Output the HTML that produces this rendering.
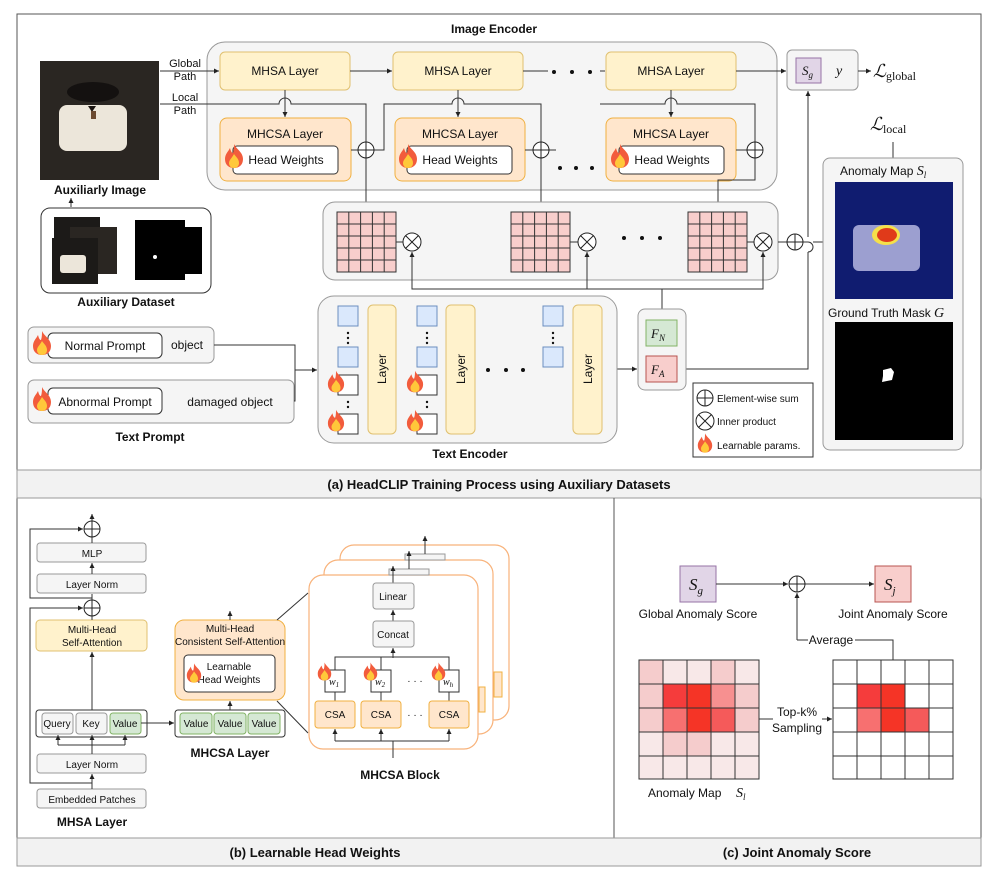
<!DOCTYPE html>
<html><head><meta charset="utf-8"><style>
html,body{margin:0;padding:0;background:#fff}
svg{display:block}
text{font-family:"Liberation Sans",sans-serif;fill:#111}
.b{font-weight:bold}
.m{font-family:"Liberation Serif",serif;font-style:italic}
</style></head><body>
<svg width="997" height="883" viewBox="0 0 997 883" xmlns="http://www.w3.org/2000/svg">
<defs>
<marker id="ar" markerWidth="6" markerHeight="6" refX="5" refY="3" orient="auto"><path d="M0,0.5 L5,3 L0,5.5 z" fill="#222"/></marker>
<symbol id="fl" viewBox="0 0 20 24"><path d="M10,0 C12,5 19,8 19,15 C19,21 15,24 10,24 C5,24 1,21 1,15 C1,10 4,8 6,4 C7,8 8,9 9,9 C10,6 10,3 10,0z" fill="#f25c3c"/><path d="M10,10 C12,13 15,15 15,19 C15,22 13,24 10,24 C7,24 5,22 5,19 C5,16 8,14 10,10z" fill="#ffc83a"/></symbol>
<g id="op"><circle r="8" fill="#fff" stroke="#222"/><path d="M-8,0H8M0,-8V8" stroke="#222"/></g>
<g id="ot"><circle r="9" fill="#fff" stroke="#222"/><path d="M-6.4,-6.4L6.4,6.4M6.4,-6.4L-6.4,6.4" stroke="#222"/></g>
<g id="grid"><rect width="59" height="60" fill="#f8cecc" stroke="#333"/><path d="M11.8,0V60M23.6,0V60M35.4,0V60M47.2,0V60M0,12H59M0,24H59M0,36H59M0,48H59" stroke="#333" fill="none"/></g>
</defs>

<rect x="17" y="14" width="964" height="852" fill="none" stroke="#555"/>
<rect x="17" y="470" width="964" height="28" fill="#f2f2f2" stroke="#999"/>
<text x="499" y="489" text-anchor="middle" font-size="13" class="b">(a) HeadCLIP Training Process using Auxiliary Datasets</text>
<line x1="614" y1="498" x2="614" y2="866" stroke="#555"/>
<rect x="17" y="838" width="964" height="28" fill="#f2f2f2" stroke="#999"/>
<text x="315" y="857" text-anchor="middle" font-size="13" class="b">(b) Learnable Head Weights</text>
<text x="797" y="857" text-anchor="middle" font-size="13" class="b">(c) Joint Anomaly Score</text>

<text x="494" y="33" text-anchor="middle" font-size="12" class="b">Image Encoder</text>
<rect x="207" y="42" width="570" height="148" rx="18" fill="#f5f5f5" stroke="#999"/>
<g font-size="12" text-anchor="middle">
<rect x="220" y="52" width="130" height="38" rx="5" fill="#fff2cc" stroke="#e0c070"/><text x="285" y="75">MHSA Layer</text>
<rect x="393" y="52" width="130" height="38" rx="5" fill="#fff2cc" stroke="#e0c070"/><text x="458" y="75">MHSA Layer</text>
<rect x="606" y="52" width="130" height="38" rx="5" fill="#fff2cc" stroke="#e0c070"/><text x="671" y="75">MHSA Layer</text>
<rect x="220" y="118" width="131" height="63" rx="7" fill="#ffe6cc" stroke="#f0b040"/><text x="285" y="138">MHCSA Layer</text>
<rect x="233" y="146" width="105" height="28" rx="4" fill="#fff" stroke="#333"/><text x="286" y="164">Head Weights</text>
<rect x="395" y="118" width="130" height="63" rx="7" fill="#ffe6cc" stroke="#f0b040"/><text x="460" y="138">MHCSA Layer</text>
<rect x="407" y="146" width="105" height="28" rx="4" fill="#fff" stroke="#333"/><text x="460" y="164">Head Weights</text>
<rect x="606" y="118" width="130" height="63" rx="7" fill="#ffe6cc" stroke="#f0b040"/><text x="671" y="138">MHCSA Layer</text>
<rect x="619" y="146" width="105" height="28" rx="4" fill="#fff" stroke="#333"/><text x="672" y="164">Head Weights</text>
</g>
<use href="#fl" x="224" y="143" width="20" height="26"/>
<use href="#fl" x="398" y="143" width="20" height="26"/>
<use href="#fl" x="610" y="143" width="20" height="26"/>
<g fill="#111"><circle cx="554" cy="72" r="2"/><circle cx="572" cy="72" r="2"/><circle cx="590" cy="72" r="2"/><circle cx="560" cy="168" r="2"/><circle cx="576" cy="168" r="2"/><circle cx="592" cy="168" r="2"/></g>
<g stroke="#333" fill="none" stroke-width="1">
<path d="M350,71H392" marker-end="url(#ar)"/><path d="M523,71H548"/><path d="M600,71H605"/>
<path d="M736,71H786" marker-end="url(#ar)"/>
<path d="M285,90V117" marker-end="url(#ar)"/><path d="M458,90V117" marker-end="url(#ar)"/><path d="M671,90V117" marker-end="url(#ar)"/>
<path d="M160,71H219" marker-end="url(#ar)"/>
<path d="M160,104H279a6,6 0 0 1 12,0H366V211" marker-end="url(#ar)"/>
<path d="M351,150H358"/><path d="M374,150H384V104H452a6,6 0 0 1 12,0H541V211" marker-end="url(#ar)"/>
<path d="M525,150H533"/><path d="M549,150H556"/>
<path d="M736,150H747"/><path d="M600,104H665a6,6 0 0 1 12,0H755V142"/>
<path d="M755,158V180H718V211" marker-end="url(#ar)"/>
</g>
<use href="#op" x="366" y="150"/><use href="#op" x="541" y="150"/><use href="#op" x="755" y="150"/>
<text x="185" y="67" text-anchor="middle" font-size="11">Global</text>
<text x="185" y="80" text-anchor="middle" font-size="11">Path</text>
<text x="185" y="101" text-anchor="middle" font-size="11">Local</text>
<text x="185" y="114" text-anchor="middle" font-size="11">Path</text>

<rect x="40" y="61" width="119" height="119" fill="#2a2622"/>
<ellipse cx="93" cy="92" rx="26" ry="10" fill="#141110"/>
<rect x="59" y="105" width="68" height="46" rx="8" fill="#ece6da"/>
<path d="M88,106l4,6l4,-6z" fill="#1a1410"/><rect x="91" y="111" width="5" height="8" fill="#6b4a30"/>
<text x="100" y="194" text-anchor="middle" font-size="12" class="b">Auxiliarly Image</text>
<path d="M71,207V198" stroke="#333" marker-end="url(#ar)"/>
<rect x="41" y="208" width="170" height="85" rx="9" fill="#fff" stroke="#333"/>
<rect x="54" y="217" width="46" height="40" fill="#1c1a18"/><rect x="70" y="227" width="47" height="47" fill="#2a2622"/>
<rect x="52" y="238" width="46" height="46" fill="#1c1a18"/><rect x="60" y="255" width="26" height="18" rx="3" fill="#ece6da"/>
<rect x="135" y="220" width="50" height="60" fill="#000"/><rect x="145" y="227" width="57" height="47" fill="#000"/><circle cx="155" cy="257" r="2" fill="#fff"/>
<text x="126" y="306" text-anchor="middle" font-size="12" class="b">Auxiliary Dataset</text>

<rect x="323" y="202" width="455" height="78" rx="12" fill="#f5f5f5" stroke="#999"/>
<use href="#grid" x="337" y="212"/><use href="#grid" x="511" y="212"/><use href="#grid" x="688" y="212"/>
<g stroke="#333"><path d="M396,242H403"/><path d="M570,242H578"/><path d="M747,242H754"/><path d="M778,242H787"/></g>
<use href="#ot" x="412" y="242"/><use href="#ot" x="587" y="242"/><use href="#ot" x="763" y="242"/>
<g fill="#111"><circle cx="624" cy="238" r="2"/><circle cx="642" cy="238" r="2"/><circle cx="660" cy="238" r="2"/></g>
<use href="#op" x="795" y="242"/>
<g stroke="#333" fill="none">
<path d="M803,242H808a5,5 0 0 1 0,10"/><path d="M813,242H823"/>
<path d="M662,310V289H412V252" marker-end="url(#ar)"/>
<path d="M587,289V252" marker-end="url(#ar)"/>
<path d="M662,289H763V252" marker-end="url(#ar)"/>
<path d="M677,369H808V252"/><path d="M808,237V91" marker-end="url(#ar)"/>
<path d="M893,158V142"/>
</g>
<rect x="787" y="50" width="71" height="40" rx="5" fill="#f5f5f5" stroke="#999"/>
<rect x="796" y="58" width="25" height="25" fill="#e1d5e7" stroke="#9673a6"/>
<text x="802" y="75" font-size="13" class="m">S<tspan font-size="9" dy="3">g</tspan></text>
<text x="836" y="75" font-size="14" class="m">y</text>
<path d="M858,71H871" stroke="#333" marker-end="url(#ar)"/>
<text x="873" y="77" font-size="18" class="m">ℒ<tspan font-size="12" font-style="normal" dy="3">global</tspan></text>
<text x="870" y="130" font-size="18" class="m">ℒ<tspan font-size="12" font-style="normal" dy="3">local</tspan></text>

<rect x="823" y="158" width="140" height="292" rx="7" fill="#f5f5f5" stroke="#999"/>
<text x="840" y="175" font-size="12">Anomaly Map <tspan class="m" font-size="14">S<tspan font-size="9" dy="3">l</tspan></tspan></text>
<rect x="835" y="182" width="118" height="117" fill="#101c70"/>
<rect x="853" y="225" width="67" height="46" rx="6" fill="#9c9fd0"/>
<ellipse cx="886" cy="235" rx="14" ry="10" fill="#f5e04a"/><ellipse cx="887" cy="235" rx="10" ry="7" fill="#e03a1a"/>
<text x="828" y="317" font-size="12">Ground Truth Mask <tspan class="m" font-size="14">G</tspan></text>
<rect x="835" y="322" width="118" height="118" fill="#000"/>
<path d="M883,370l8,-2l3,4l-2,8l-10,2l1,-6z" fill="#fff"/>

<rect x="638" y="309" width="48" height="81" rx="7" fill="#f5f5f5" stroke="#999"/>
<rect x="646" y="320" width="31" height="26" fill="#d5e8d4" stroke="#82b366"/>
<text x="651" y="338" font-size="13" class="m">F<tspan font-size="9" dy="3">N</tspan></text>
<rect x="646" y="356" width="31" height="26" fill="#f8cecc" stroke="#b85450"/>
<text x="651" y="374" font-size="13" class="m">F<tspan font-size="9" dy="3">A</tspan></text>
<path d="M617,369H637" stroke="#333" marker-end="url(#ar)"/>

<rect x="693" y="383" width="120" height="74" fill="#fff" stroke="#333"/>
<use href="#op" x="705" y="398"/>
<use href="#ot" x="705" y="421"/>
<use href="#fl" x="697" y="433" width="16" height="20"/>
<text x="717" y="402" font-size="10">Element-wise sum</text>
<text x="717" y="425" font-size="10">Inner product</text>
<text x="717" y="449" font-size="10">Learnable params.</text>

<rect x="318" y="296" width="299" height="147" rx="16" fill="#f5f5f5" stroke="#999"/>
<g stroke="#6c8ebf" fill="#dae8fc">
<rect x="338" y="306" width="20" height="20"/><rect x="338" y="347" width="20" height="20"/>
<rect x="417" y="306" width="20" height="20"/><rect x="417" y="347" width="20" height="20"/>
<rect x="543" y="306" width="20" height="20"/><rect x="543" y="347" width="20" height="20"/>
</g>
<g stroke="#333" fill="#fff">
<rect x="338" y="375" width="20" height="20"/><rect x="338" y="414" width="20" height="20"/>
<rect x="417" y="375" width="20" height="20"/><rect x="417" y="414" width="20" height="20"/>
</g>
<use href="#fl" x="327" y="370" width="18" height="23"/><use href="#fl" x="327" y="409" width="18" height="23"/>
<use href="#fl" x="406" y="370" width="18" height="23"/><use href="#fl" x="406" y="409" width="18" height="23"/>
<g fill="#111">
<circle cx="348" cy="333" r="1.2"/><circle cx="348" cy="338" r="1.2"/><circle cx="348" cy="343" r="1.2"/>
<circle cx="427" cy="333" r="1.2"/><circle cx="427" cy="338" r="1.2"/><circle cx="427" cy="343" r="1.2"/>
<circle cx="553" cy="333" r="1.2"/><circle cx="553" cy="338" r="1.2"/><circle cx="553" cy="343" r="1.2"/>
<circle cx="348" cy="402" r="1.2"/><circle cx="348" cy="407" r="1.2"/><circle cx="427" cy="402" r="1.2"/><circle cx="427" cy="407" r="1.2"/>
<circle cx="488" cy="370" r="2"/><circle cx="506" cy="370" r="2"/><circle cx="523" cy="370" r="2"/>
</g>
<g fill="#fff2cc" stroke="#e0c070">
<rect x="368" y="305" width="28" height="129" rx="5"/><rect x="446" y="305" width="29" height="129" rx="5"/><rect x="573" y="305" width="29" height="129" rx="5"/>
</g>
<g font-size="12" text-anchor="middle">
<text transform="translate(386,369) rotate(-90)">Layer</text>
<text transform="translate(465,369) rotate(-90)">Layer</text>
<text transform="translate(592,369) rotate(-90)">Layer</text>
</g>
<text x="470" y="458" text-anchor="middle" font-size="12" class="b">Text Encoder</text>

<rect x="28" y="327" width="186" height="36" rx="6" fill="#f5f5f5" stroke="#999"/>
<rect x="48" y="333" width="114" height="25" rx="5" fill="#fff" stroke="#333"/>
<text x="105" y="350" text-anchor="middle" font-size="12">Normal Prompt</text>
<text x="187" y="349" text-anchor="middle" font-size="12">object</text>
<use href="#fl" x="32" y="330" width="20" height="26"/>
<rect x="28" y="380" width="266" height="43" rx="6" fill="#f5f5f5" stroke="#999"/>
<rect x="48" y="388" width="114" height="26" rx="5" fill="#fff" stroke="#333"/>
<text x="105" y="406" text-anchor="middle" font-size="12">Abnormal Prompt</text>
<text x="230" y="406" text-anchor="middle" font-size="12">damaged object</text>
<use href="#fl" x="32" y="386" width="20" height="26"/>
<text x="150" y="441" text-anchor="middle" font-size="12" class="b">Text Prompt</text>
<g stroke="#333" fill="none"><path d="M214,345H295V401H294"/><path d="M295,370H317" marker-end="url(#ar)"/></g>

<g font-size="10" text-anchor="middle">
<rect x="37" y="543" width="109" height="19" rx="3" fill="#f5f5f5" stroke="#999"/><text x="92" y="557">MLP</text>
<rect x="37" y="574" width="109" height="19" rx="3" fill="#f5f5f5" stroke="#999"/><text x="92" y="588">Layer Norm</text>
<rect x="36" y="620" width="111" height="31" rx="4" fill="#fff2cc" stroke="#e0c070"/><text x="92" y="633">Multi-Head</text><text x="92" y="646">Self-Attention</text>
<rect x="36" y="710" width="111" height="27" rx="3" fill="#fff" stroke="#333"/>
<rect x="42" y="713" width="31" height="21" rx="3" fill="#f5f5f5" stroke="#999"/><text x="57" y="727">Query</text>
<rect x="76" y="713" width="31" height="21" rx="3" fill="#f5f5f5" stroke="#999"/><text x="91" y="727">Key</text>
<rect x="110" y="713" width="31" height="21" rx="3" fill="#d5e8d4" stroke="#82b366"/><text x="125" y="727">Value</text>
<rect x="37" y="754" width="109" height="19" rx="3" fill="#f5f5f5" stroke="#999"/><text x="92" y="768">Layer Norm</text>
<rect x="37" y="789" width="109" height="19" rx="3" fill="#f5f5f5" stroke="#999"/><text x="92" y="803">Embedded Patches</text>
</g>
<text x="92" y="826" text-anchor="middle" font-size="12" class="b">MHSA Layer</text>
<g stroke="#333" fill="none">
<path d="M92,789V774" marker-end="url(#ar)"/><path d="M92,754V737"/>
<path d="M58,745V735" marker-end="url(#ar)"/><path d="M125,745V735" marker-end="url(#ar)"/><path d="M58,745H125"/><path d="M92,745V735" marker-end="url(#ar)"/>
<path d="M92,710V652" marker-end="url(#ar)"/><path d="M92,620V616"/>
<path d="M92,600V594"/><path d="M92,574V563" marker-end="url(#ar)"/><path d="M92,543V537"/><path d="M92,521V514" marker-end="url(#ar)"/>
<path d="M92,783H30V608H83" marker-end="url(#ar)"/>
<path d="M92,598H30V529H83" marker-end="url(#ar)"/>
<path d="M141,723H174" marker-end="url(#ar)"/>
</g>
<use href="#op" x="92" y="608"/><use href="#op" x="92" y="529"/>

<rect x="175" y="620" width="110" height="80" rx="9" fill="#ffe6cc" stroke="#f0b040"/>
<g font-size="10" text-anchor="middle">
<text x="230" y="632">Multi-Head</text><text x="230" y="645">Consistent Self-Attention</text>
<rect x="184" y="655" width="91" height="37" rx="4" fill="#fff" stroke="#333"/>
<text x="229" y="670">Learnable</text><text x="229" y="683">Head Weights</text>
<rect x="175" y="710" width="110" height="27" rx="3" fill="#fff" stroke="#333"/>
<rect x="180" y="713" width="32" height="21" rx="3" fill="#d5e8d4" stroke="#82b366"/><text x="196" y="727">Value</text>
<rect x="214" y="713" width="32" height="21" rx="3" fill="#d5e8d4" stroke="#82b366"/><text x="230" y="727">Value</text>
<rect x="248" y="713" width="32" height="21" rx="3" fill="#d5e8d4" stroke="#82b366"/><text x="264" y="727">Value</text>
</g>
<use href="#fl" x="186" y="662" width="16" height="22"/>
<text x="230" y="757" text-anchor="middle" font-size="12" class="b">MHCSA Layer</text>
<g stroke="#333" fill="none">
<path d="M230,710V701" marker-end="url(#ar)"/><path d="M230,620V611" marker-end="url(#ar)"/>
<path d="M277,620L308,593"/><path d="M277,701L308,733"/>
</g>

<g fill="#fff" stroke="#f8b27a" stroke-width="1.2">
<rect x="340" y="545" width="169" height="175" rx="14"/>
<rect x="324" y="560" width="169" height="174" rx="14"/>
<rect x="309" y="575" width="169" height="174" rx="14"/>
</g>
<rect x="405" y="554" width="40" height="6" fill="#f5f5f5" stroke="#999"/>
<rect x="389" y="569" width="40" height="6" fill="#f5f5f5" stroke="#999"/>
<rect x="494" y="672" width="8" height="25" fill="#ffe6cc" stroke="#f0b040"/>
<rect x="479" y="687" width="6" height="25" fill="#ffe6cc" stroke="#f0b040"/>
<g stroke="#333" fill="none">
<path d="M425,554V536" marker-end="url(#ar)"/><path d="M409,569V551" marker-end="url(#ar)"/><path d="M393,583V566" marker-end="url(#ar)"/>
<path d="M393,621V610" marker-end="url(#ar)"/>
<path d="M393,658V648" marker-end="url(#ar)"/>
<path d="M335,670V657H449V670"/><path d="M381,657V670"/>
<path d="M335,692V701"/><path d="M381,692V701"/><path d="M449,692V701"/>
<path d="M335,741V729" marker-end="url(#ar)"/><path d="M381,741V729" marker-end="url(#ar)"/><path d="M449,741V729" marker-end="url(#ar)"/>
<path d="M335,741H449"/><path d="M393,741V758"/>
</g>
<g font-size="10" text-anchor="middle">
<rect x="373" y="583" width="41" height="26" rx="3" fill="#f5f5f5" stroke="#999"/><text x="393" y="600">Linear</text>
<rect x="373" y="621" width="41" height="26" rx="3" fill="#f5f5f5" stroke="#999"/><text x="393" y="638">Concat</text>
</g>
<g fill="#fff" stroke="#333">
<rect x="325" y="670" width="20" height="22"/><rect x="371" y="670" width="20" height="22"/><rect x="439" y="670" width="20" height="22"/>
</g>
<g font-size="10">
<text x="329" y="685" class="m">w<tspan font-size="7" dy="2">1</tspan></text>
<text x="375" y="685" class="m">w<tspan font-size="7" dy="2">2</tspan></text>
<text x="443" y="685" class="m">w<tspan font-size="7" dy="2">h</tspan></text>
</g>
<use href="#fl" x="317" y="662" width="15" height="19"/><use href="#fl" x="363" y="662" width="15" height="19"/><use href="#fl" x="431" y="662" width="15" height="19"/>
<text x="415" y="684" font-size="10" text-anchor="middle">· · ·</text>
<text x="415" y="718" font-size="10" text-anchor="middle">· · ·</text>
<g font-size="10" text-anchor="middle">
<rect x="315" y="701" width="40" height="27" rx="3" fill="#ffe6cc" stroke="#f0b040"/><text x="335" y="718">CSA</text>
<rect x="361" y="701" width="40" height="27" rx="3" fill="#ffe6cc" stroke="#f0b040"/><text x="381" y="718">CSA</text>
<rect x="429" y="701" width="40" height="27" rx="3" fill="#ffe6cc" stroke="#f0b040"/><text x="449" y="718">CSA</text>
</g>
<text x="400" y="779" text-anchor="middle" font-size="12" class="b">MHCSA Block</text>

<rect x="680" y="566" width="36" height="36" fill="#e1d5e7" stroke="#9673a6"/>
<text x="689" y="590" font-size="17" class="m">S<tspan font-size="11" dy="4">g</tspan></text>
<text x="698" y="618" text-anchor="middle" font-size="12">Global Anomaly Score</text>
<rect x="875" y="566" width="36" height="36" fill="#f8cecc" stroke="#b85450"/>
<text x="884" y="590" font-size="17" class="m">S<tspan font-size="11" dy="4">j</tspan></text>
<text x="893" y="618" text-anchor="middle" font-size="12">Joint Anomaly Score</text>
<g stroke="#333" fill="none">
<path d="M716,584H788" marker-end="url(#ar)"/><path d="M805,584H874" marker-end="url(#ar)"/>
<path d="M797,640V593" marker-end="url(#ar)"/>
<path d="M797,640H808"/><path d="M855,640H893V660"/>
<path d="M758,719H773"/><path d="M822,719H832" marker-end="url(#ar)"/>
</g>
<use href="#op" x="797" y="584"/>
<text x="831" y="644" text-anchor="middle" font-size="12">Average</text>
<text x="797" y="716" text-anchor="middle" font-size="12">Top-k%</text>
<text x="797" y="732" text-anchor="middle" font-size="12">Sampling</text>
<g stroke="#333">
<rect x="639" y="660" width="24" height="24" fill="#f5cccc"/><rect x="663" y="660" width="24" height="24" fill="#f8e8e8"/><rect x="687" y="660" width="24" height="24" fill="#f8e8e8"/><rect x="711" y="660" width="24" height="24" fill="#f5cccc"/><rect x="735" y="660" width="24" height="24" fill="#f8e8e8"/>
<rect x="639" y="684" width="24" height="24" fill="#f5cccc"/><rect x="663" y="684" width="24" height="24" fill="#f53c3c"/><rect x="687" y="684" width="24" height="24" fill="#f53426"/><rect x="711" y="684" width="24" height="24" fill="#f79090"/><rect x="735" y="684" width="24" height="24" fill="#f5cccc"/>
<rect x="639" y="708" width="24" height="24" fill="#f5cccc"/><rect x="663" y="708" width="24" height="24" fill="#f77070"/><rect x="687" y="708" width="24" height="24" fill="#f53426"/><rect x="711" y="708" width="24" height="24" fill="#f55a5a"/><rect x="735" y="708" width="24" height="24" fill="#f5cccc"/>
<rect x="639" y="732" width="24" height="24" fill="#f8e8e8"/><rect x="663" y="732" width="24" height="24" fill="#f5cccc"/><rect x="687" y="732" width="24" height="24" fill="#f5cccc"/><rect x="711" y="732" width="24" height="24" fill="#f8e8e8"/><rect x="735" y="732" width="24" height="24" fill="#f8e8e8"/>
<rect x="639" y="756" width="24" height="23" fill="#f8e8e8"/><rect x="663" y="756" width="24" height="23" fill="#f8e8e8"/><rect x="687" y="756" width="24" height="23" fill="#f8e8e8"/><rect x="711" y="756" width="24" height="23" fill="#f8e8e8"/><rect x="735" y="756" width="24" height="23" fill="#f8e8e8"/>
</g>
<g stroke="#333" fill="#fff">
<rect x="833" y="660" width="120" height="119"/>
<rect x="857" y="684" width="24" height="24" fill="#f53c3c"/><rect x="881" y="684" width="24" height="24" fill="#f53426"/>
<rect x="857" y="708" width="24" height="24" fill="#f77070"/><rect x="881" y="708" width="24" height="24" fill="#f53426"/><rect x="905" y="708" width="24" height="24" fill="#f55a5a"/>
<path d="M857,660V779M881,660V779M905,660V779M929,660V779M833,684H953M833,708H953M833,732H953M833,756H953" fill="none"/>
</g>
<text x="648" y="797" font-size="12">Anomaly Map</text>
<text x="736" y="797" font-size="14" class="m">S<tspan font-size="9" dy="3">l</tspan></text>
</svg>
</body></html>
